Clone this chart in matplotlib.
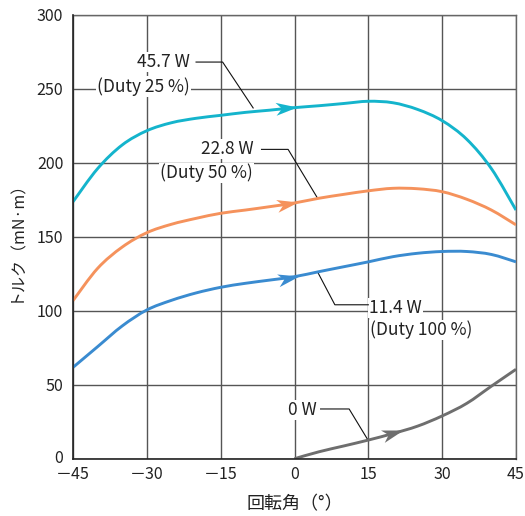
import numpy as np
import matplotlib
matplotlib.use("Agg")
import matplotlib.pyplot as plt
from matplotlib.path import Path
from matplotlib.patches import PathPatch
from matplotlib.markers import MarkerStyle
from matplotlib.transforms import Affine2D, ScaledTranslation

plt.rcParams['font.family'] = ['Noto Sans CJK JP', 'DejaVu Sans']

# ---- data ----
angle = [-45, -40, -35, -30, -25, -20, -15, -10, -5, 0, 5, 10, 15, 20, 25, 30, 35, 40, 45]
torque_45_7W = [173.6, 196, 212, 221.6, 227, 230, 232, 234, 235.5, 237.2, 238.5, 240, 241.5, 240.5, 236, 228.4, 215.8, 196, 168]
torque_22_8W = [106.8, 128.6, 143, 152.7, 158.4, 162.4, 165.8, 168, 170.3, 172.8, 176, 178.6, 181, 182.7, 182.4, 180.4, 175.3, 168, 158]
torque_11_4W = [61.7, 75.7, 89.7, 100.5, 107, 112, 115.8, 118.5, 120.7, 123, 126.4, 129.7, 133, 136.5, 138.8, 140, 140, 138, 133]
angle_0W = [0, 5, 10, 15, 20, 25, 30, 35, 40, 45]
torque_0W = [0, 4.7, 8.6, 12.6, 17, 22, 28.9, 37.4, 49, 60.4]

series_x = [angle, angle, angle, angle_0W]
series_y = [torque_45_7W, torque_22_8W, torque_11_4W, torque_0W]
colors = ['#14b4cc', '#f5925c', '#3a8bd0', '#6e6e6e']
arrow_x = [0.6, 0.7, 1.0, 22.1]

label_main = ['45.7 W', '22.8 W', '11.4 W', '0 W']
label_sub = ['(Duty 25 %)', '(Duty 50 %)', '(Duty 100 %)', None]

x_ticks = [-45, -30, -15, 0, 15, 30, 45]
x_ticklabels = ['－45', '－30', '－15', '0', '15', '30', '45']
y_ticks = [0, 50, 100, 150, 200, 250, 300]


def smooth_path(xs, ys):
    """Smooth curve through the given points (Catmull-Rom rendered as cubic Bezier)."""
    P = np.column_stack([xs, ys]).astype(float)
    Q = np.vstack([P[0], P, P[-1]])
    verts = [P[0]]
    codes = [Path.MOVETO]
    for i in range(len(P) - 1):
        p0, p1, p2, p3 = Q[i], Q[i + 1], Q[i + 2], Q[i + 3]
        verts += [p1 + (p2 - p0) / 6.0, p2 - (p3 - p1) / 6.0, p2]
        codes += [Path.CURVE4] * 3
    return Path(verts, codes)


# ---- figure ----
W, H = 525, 516
fig = plt.figure(figsize=(W / 100, H / 100), dpi=100)
x0, x1, y0, y1 = 73, 516, 458.7, 14.7
ax = fig.add_axes([x0 / W, (H - y0) / H, (x1 - x0) / W, (y0 - y1) / H])
ax.set_xlim(-45, 45)
ax.set_ylim(0, 300)
ax.set_xticks(x_ticks)
ax.set_xticklabels(x_ticklabels)
ax.set_yticks(y_ticks)
ax.tick_params(axis='both', length=0, labelsize=11.5, colors='#222222')
ax.tick_params(axis='y', pad=7)
ax.tick_params(axis='x', pad=5.3)
ax.grid(True, color='#555555', linewidth=1.0)
ax.set_axisbelow(True)
for side in ['top', 'right']:
    ax.spines[side].set_color('#666666')
    ax.spines[side].set_linewidth(1.0)
for side in ['left', 'bottom']:
    ax.spines[side].set_color('#222222')
    ax.spines[side].set_linewidth(1.2)
    ax.spines[side].set_zorder(7)

ax.set_xlabel('回転角（°）', fontsize=13, labelpad=9, color='#222222')
ax.set_ylabel('トルク（mN·m）', fontsize=11.5, labelpad=9, color='#222222')

# curves
for xs, ys, c in zip(series_x, series_y, colors):
    ax.add_patch(PathPatch(smooth_path(xs, ys), facecolor='none', edgecolor=c,
                           lw=2.1, zorder=5, capstyle='butt', joinstyle='round'))

# arrowheads
arrow_path = Path([(0, 0), (-1, 0.3), (-0.72, 0), (-1, -0.3), (0, 0)],
                  [Path.MOVETO, Path.LINETO, Path.LINETO, Path.LINETO, Path.CLOSEPOLY])
fig.canvas.draw()
for xs, ys, c, ax_ in zip(series_x, series_y, colors, arrow_x):
    ya = np.interp(ax_, xs, ys)
    pa = ax.transData.transform((ax_ - 1.0, np.interp(ax_ - 1.0, xs, ys)))
    pb = ax.transData.transform((ax_ + 0.5, np.interp(ax_ + 0.5, xs, ys)))
    ang = np.degrees(np.arctan2(pb[1] - pa[1], pb[0] - pa[0]))
    m = MarkerStyle(arrow_path, transform=Affine2D().rotate_deg(ang))
    ax.plot([ax_], [ya], marker=m, markersize=31, color=c, markeredgewidth=0, zorder=6,
            linestyle='none')

# nudge the "0" y tick label up slightly so it clears the first x tick label
zero_lab = ax.get_yticklabels()[0]
zero_lab.set_transform(zero_lab.get_transform() + ScaledTranslation(0, 1.5 / 72, fig.dpi_scale_trans))

# annotations
tkw = dict(fontsize=12.5, color='#222222', zorder=4,
           bbox=dict(facecolor='white', edgecolor='none', pad=0.8))
lkw = dict(color='#111111', lw=0.8, zorder=4.5)

ax.text(-21.3, 268, label_main[0], ha='right', va='center', **tkw)
ax.text(-21.3, 251.5, label_sub[0], ha='right', va='center', **tkw)
ax.plot([-20.0, -14.6, -8.4], [268, 268, 237], **lkw)

ax.text(-8.4, 209, label_main[1], ha='right', va='center', **tkw)
ax.text(-8.4, 193, label_sub[1], ha='right', va='center', **tkw)
ax.plot([-6.7, -1.3, 4.6], [209, 209, 176.5], **lkw)

ax.text(15.2, 102, label_main[2], ha='left', va='center', **tkw)
ax.text(15.4, 87, label_sub[2], ha='left', va='center', **tkw)
ax.plot([15.0, 8.2, 4.8], [104, 104, 125.5], **lkw)

ax.text(4.5, 33, label_main[3], ha='right', va='center', **tkw)
ax.plot([5.3, 11.1, 14.8], [33.6, 33.6, 13.3], **lkw)

fig.savefig('out.png', dpi=100)
